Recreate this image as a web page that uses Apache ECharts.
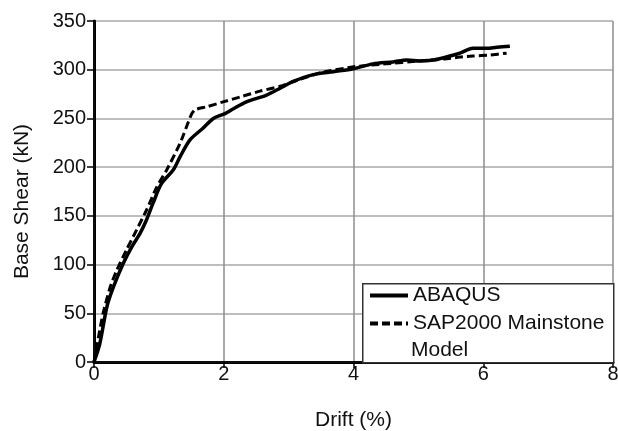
<!DOCTYPE html>
<html>
<head>
<meta charset="utf-8">
<script src="https://cdn.jsdelivr.net/npm/echarts@6/dist/echarts.min.js"></script>
<style>html,body{margin:0;padding:0;background:#fff}#c{width:618px;height:431px}</style>
</head>
<body>
<div id="c"></div>
<script>
var xTicks = [0, 2, 4, 6, 8];
var yTicks = [0, 50, 100, 150, 200, 250, 300, 350];
var seriesNames = ['ABAQUS', 'SAP2000 Mainstone Model'];
var abaqusDrift = [0, 0.09, 0.2, 0.3, 0.45, 0.58, 0.71, 0.81, 0.91, 1.04, 1.22, 1.33, 1.48, 1.68, 1.84, 2.02, 2.15, 2.35, 2.66, 2.87, 3.07, 3.38, 3.69, 4.0, 4.3, 4.61, 4.82, 5.02, 5.23, 5.43, 5.64, 5.84, 6.05, 6.21, 6.41];
var abaqusShear = [0, 19, 57, 77, 101, 118, 132, 146, 163, 183, 197, 211, 228, 240, 250, 255, 260, 267, 274, 281, 288, 295, 298, 301, 306, 308, 310, 309, 310, 313, 317, 322, 322, 323, 324];
var sapDrift = [0, 0.07, 0.14, 0.25, 0.35, 0.5, 0.66, 0.81, 0.97, 1.12, 1.33, 1.5, 1.56, 1.74, 1.99, 2.25, 2.56, 2.87, 3.17, 3.5, 4.0, 4.5, 5.0, 5.4, 5.64, 5.84, 6.1, 6.36];
var sapShear = [0, 26, 50, 77, 94, 115, 136, 156, 180, 197, 225, 254, 259, 262, 267, 272, 278, 283, 290, 297, 303, 306, 309, 311, 313, 314, 315, 317];
var legendLines = ['ABAQUS', 'SAP2000 Mainstone', 'Model'];

function pairs(xs, ys) { return xs.map(function (x, i) { return [x, ys[i]]; }); }

var chart = echarts.init(document.getElementById('c'));
var FONT = '"Liberation Sans", Arial, sans-serif';
var frameAxis = {
  show: true,
  axisLine: { show: true, lineStyle: { color: '#111', width: 1.5 } },
  axisTick: { show: false }, axisLabel: { show: false }, splitLine: { show: false }
};
chart.setOption({
  animation: false,
  backgroundColor: '#fff',
  grid: { left: 94, right: 5, top: 21, bottom: 69, outerBoundsMode: 'none', containLabel: false },
  xAxis: [{
    type: 'value', min: xTicks[0], max: xTicks[xTicks.length - 1], interval: 2,
    name: 'Drift (%)', nameLocation: 'middle', nameGap: 48,
    nameTextStyle: { fontFamily: FONT, fontSize: 21, color: '#111' },
    axisLine: { show: true, lineStyle: { color: '#000', width: 3 } },
    axisTick: { show: true, length: 6, lineStyle: { color: '#000', width: 1.5 } },
    axisLabel: { fontFamily: FONT, fontSize: 20, color: '#111', margin: 2 },
    splitLine: { show: true, lineStyle: { color: '#8c8c8c', width: 1.5 } }
  }, Object.assign({ type: 'value', position: 'top', min: xTicks[0], max: xTicks[xTicks.length - 1] }, frameAxis)],
  yAxis: [{
    type: 'value', min: yTicks[0], max: yTicks[yTicks.length - 1], interval: 50,
    name: 'Base Shear (kN)', nameLocation: 'middle', nameGap: 61,
    nameTextStyle: { fontFamily: FONT, fontSize: 21, color: '#111', padding: [0, 20, 0, 0] },
    axisLine: { show: true, lineStyle: { color: '#000', width: 3 } },
    axisTick: { show: true, length: 7, lineStyle: { color: '#000', width: 1.5 } },
    axisLabel: { fontFamily: FONT, fontSize: 20, color: '#111', margin: 8 },
    splitLine: { show: true, lineStyle: { color: '#a8a8a8', width: 1.5 } }
  }, Object.assign({ type: 'value', position: 'right', min: yTicks[0], max: yTicks[yTicks.length - 1] }, frameAxis)],
  graphic: [{
    type: 'rect', left: 362, top: 283, z: 5,
    shape: { width: 251, height: 79 },
    style: { fill: '#fff', stroke: '#333', lineWidth: 1.5 }
  }, {
    type: 'text', left: 411, top: 340, z: 11,
    style: { text: legendLines[2], font: '21px ' + FONT, fill: '#111' }
  }],
  legend: {
    orient: 'vertical', left: 368, top: 285, z: 10, padding: 0,
    itemWidth: 38, itemHeight: 20, itemGap: 7,
    itemStyle: { opacity: 0 },
    lineStyle: { width: 4 },
    textStyle: { fontFamily: FONT, fontSize: 21, color: '#111' },
    data: [
      { name: seriesNames[0] },
      { name: seriesNames[1] }
    ],
    formatter: function (n) { return n === seriesNames[1] ? legendLines[1] : legendLines[0]; }
  },
  series: [
    {
      name: seriesNames[0], type: 'line', data: pairs(abaqusDrift, abaqusShear),
      showSymbol: false, symbol: 'none', smooth: 0.3, z: 3,
      lineStyle: { color: '#000', width: 3.5, type: 'solid' }, itemStyle: { color: '#000' }
    },
    {
      name: seriesNames[1], type: 'line', data: pairs(sapDrift, sapShear),
      showSymbol: false, symbol: 'none', smooth: 0.2, z: 4,
      lineStyle: { color: '#000', width: 3, type: [8, 4] }, itemStyle: { color: '#000' }
    }
  ]
});
</script>
</body>
</html>
